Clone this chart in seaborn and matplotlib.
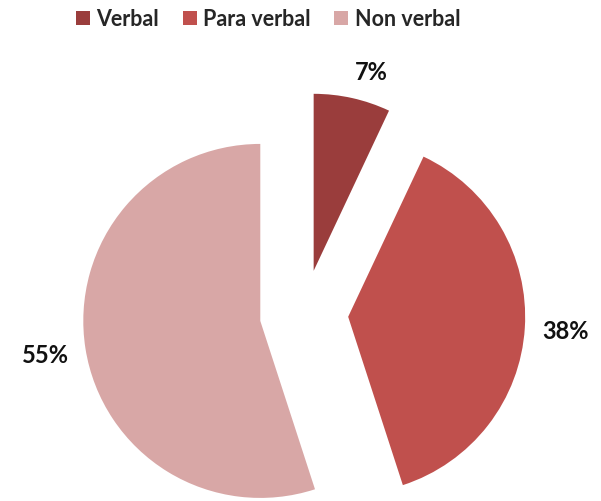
import numpy as np
import matplotlib
matplotlib.use("Agg")
import matplotlib.pyplot as plt
import seaborn as sns
from matplotlib.patches import Patch

categories = ["Verbal", "Para verbal", "Non verbal"]
values = [7, 38, 55]
labels_pct = ["7%", "38%", "55%"]

colors = ["#9A3D3C", "#C0504D", "#D8A7A6"]
explode = [0.25, 0.25, 0.25]
label_dist = [1.17, 1.23, 1.23]
label_angle_shift = [-3.0, 0.0, 0.0]

sns.set_theme(style="white")
plt.rcParams['font.family'] = ['Lato', 'DejaVu Sans']

fig = plt.figure(figsize=(6.01, 5.02), dpi=100)
ax = fig.add_axes([0, 0, 1, 1])
wedges, _ = ax.pie(values, colors=colors, explode=explode, startangle=90,
                   counterclock=False, radius=1.0,
                   wedgeprops=dict(linewidth=0))

for w, lab, d, ex, sh in zip(wedges, labels_pct, label_dist, explode, label_angle_shift):
    ang = np.deg2rad((w.theta1 + w.theta2) / 2 + sh)
    r = ex + d
    ax.text(r * np.cos(ang), r * np.sin(ang), lab, ha="center", va="center",
            fontsize=17, fontweight="bold", color="#111111")

R = 177.0
cx, cy = 304.0, 315.0
ax.set_xlim(-cx / R, (601 - cx) / R)
ax.set_ylim(-(502 - cy) / R, cy / R)
ax.set_aspect("equal")
ax.axis("off")

handles = [Patch(facecolor=c, edgecolor="none") for c in colors]
leg = fig.legend(handles, categories, loc="upper center", bbox_to_anchor=(0.446, 1.02),
                 ncol=3, frameon=False, prop=dict(size=15.5, weight="bold"),
                 handlelength=0.65, handleheight=0.65, handletextpad=0.3,
                 columnspacing=1.1)

fig.savefig("out.png", dpi=100)
